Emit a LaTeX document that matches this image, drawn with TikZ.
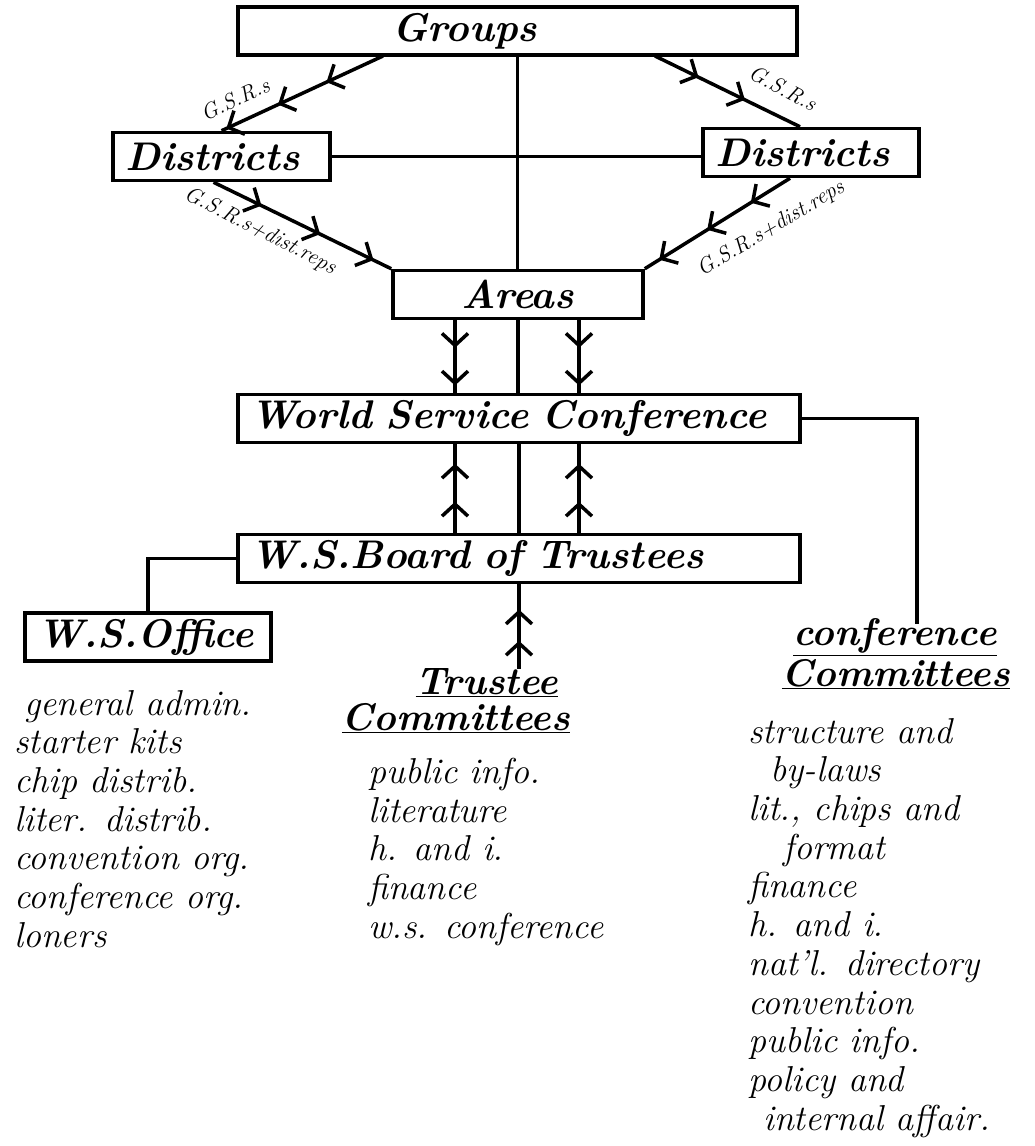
\documentclass[tikz,border=0pt]{standalone}
\usepackage{tikz}
\usetikzlibrary{arrows.meta, decorations.markings}

\newcommand*\boxfont{\fontsize{40}{44}\selectfont\bfseries\itshape}
\newcommand*\listfont{\fontsize{36}{38.7}\selectfont\itshape}
\newcommand*\headfont{\fontsize{38.5}{42}\selectfont\bfseries\itshape}
\newcommand*\tagfont{\fontsize{22}{24}\selectfont\itshape}

\tikzset{
  box/.style={draw, line width=3.5pt, fill=white, inner xsep=12pt, inner ysep=0pt,
    minimum height=48pt, text width=#1, align=left, font=\boxfont},
  wire/.style={draw, line width=3.5pt},
  chev/.tip={Straight Barb[length=12pt, width=26pt]},
  two heads/.style 2 args={wire, postaction={decorate}, decoration={markings,
      mark=at position #1 with {\arrow{chev}},
      mark=at position #2 with {\arrow{chev}}}},
  three heads/.style n args={3}{wire, postaction={decorate}, decoration={markings,
      mark=at position #1 with {\arrow{chev}},
      mark=at position #2 with {\arrow{chev}},
      mark=at position #3 with {\arrow{chev}}}},
  tag/.style={font=\tagfont, inner sep=0pt},
  title/.style={font=\headfont, inner sep=0pt},
  list/.style={font=\listfont, align=left, anchor=north west, inner sep=0pt},
}

\begin{document}
\begin{tikzpicture}[x=1pt, y=-1pt]
\useasboundingbox (0,0) rectangle (1034,1146);

% boxes
\node[box=535pt] (Groups) at (517.5,31) {\hspace*{142pt}Groups};
\node[box=193pt] (DistL) at (221.5,156.5) {Districts};
\node[box=192pt] (DistR) at (811,152.5) {Districts};
\node[box=226pt, align=center] (Areas) at (518,294.5) {Areas};
\node[box=538pt] (WSC) at (519,418.5) {World Service Conference};
\node[box=538pt] (Board) at (519,558.5) {W.S.Board of Trustees};
\node[box=222pt] (Office) at (148,637) {\mbox{W.S.Office}};

% committee headings and lists
\node[title] (Trustee) at (487,683) {\underline{Trustee}};
\node[title] (TrusteeCom) at (456,718) {\underline{Committees}};
\node[title] (ConfTitle) at (895,637) {\underline{conference}};
\node[title] (ConfCom) at (896,674) {\underline{Committees}};

\node[list] (OfficeList) at (14,690) {\hspace*{10pt}general admin.\\starter kits\\chip distrib.\\
  liter. distrib.\\convention org.\\conference org.\\loners};
\node[list] (TrusteeList) at (368,758) {public info.\\literature\\h. and i.\\finance\\w.s. conference};
\node[list] (ConfList) at (748,718) {structure and\\\hspace*{22pt}by-laws\\lit., chips and\\
  \hspace*{35pt}format\\finance\\h. and i.\\nat'l. directory\\convention\\public info.\\
  policy and\\\hspace*{15pt}internal affair.};

% free ends
\coordinate (gl) at (383,56);
\coordinate (gr) at (655,56);
\coordinate (pl) at (455,0);
\coordinate (pr) at (579,0);
\coordinate (cctop) at (917,624);

% trunk
\draw[wire] (Groups.south) -- (Groups.south |- Areas.north);
\draw[wire] (Areas.south) -- (Areas.south |- WSC.north);
\draw[wire] (WSC.south) -- (WSC.south |- Board.north);
\draw[wire] (DistL.east) -- (DistL.east -| DistR.west);

% representatives
\draw[three heads={0.35}{0.65}{0.97}] (gl) -- (DistL.north);
\draw[two heads={0.3}{0.62}] (gr) -- ([xshift=-11pt]DistR.north);
\draw[three heads={0.27}{0.6}{0.9}] ([xshift=-8pt]DistL.south) -- (Areas.north west);
\draw[three heads={0.27}{0.57}{0.9}] ([xshift=-21pt]DistR.south) -- (Areas.north east);

\node[tag, rotate=25] (tgl) at (235,99) {G.S.R.s};
\node[tag, rotate=-28] (tgr) at (783,88) {G.S.R.s};
\node[tag, rotate=-27] (tdl) at (260,231) {G.S.R.s+dist.reps};
\node[tag, rotate=31] (tdr) at (771,229) {G.S.R.s+dist.reps};

% conference and trustees
\draw[two heads={0.38}{0.9}] (Areas.south -| pl) -- (WSC.north -| pl);
\draw[two heads={0.38}{0.9}] (Areas.south -| pr) -- (WSC.north -| pr);
\draw[two heads={0.35}{0.78}] (Board.north -| pl) -- (WSC.south -| pl);
\draw[two heads={0.35}{0.78}] (Board.north -| pr) -- (WSC.south -| pr);
\draw[two heads={0.33}{0.7}] (Trustee.north -| Board.south) -- (Board.south);

\draw[wire] (Board.west) -| (Office.north);
\draw[wire] (WSC.east) -| (cctop);
\end{tikzpicture}
\end{document}
